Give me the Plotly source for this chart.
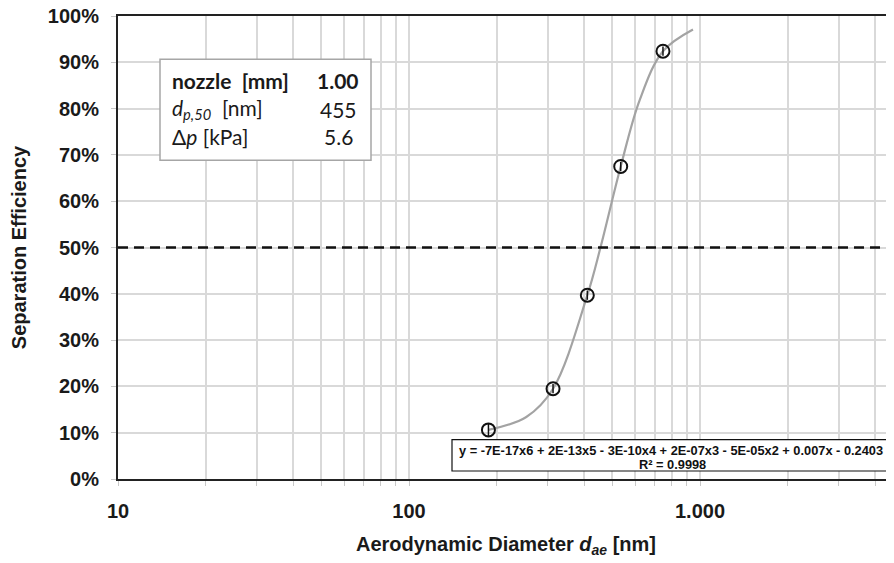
import plotly.graph_objects as go

# ---- data ----
diam_nm = [187.5, 312.6, 410, 534, 746]
efficiency = [0.106, 0.195, 0.397, 0.675, 0.924]
err = [0.015, 0.01, 0.01, 0.01, 0.01]

fit_x = [187.5, 253, 312.6, 410, 455, 534, 620, 746, 946]
fit_y = [0.106, 0.134, 0.195, 0.397, 0.50, 0.675, 0.818, 0.924, 0.971]

x_major = [10, 100, 1000]
x_major_text = ["10", "100", "1.000"]
x_minor = [20, 30, 40, 50, 60, 70, 80, 90,
           200, 300, 400, 500, 600, 700, 800, 900,
           2000, 3000, 4000]

y_ticks = [i / 10 for i in range(11)]
y_tick_text = [f"{i*10}%" for i in range(11)]

dp50_level = 0.5

# the page body has an 8px default margin: size the figure so it fills the window
OFF = 8
WIN_W, WIN_H = 894, 563
W, H = WIN_W - OFF, WIN_H - OFF
PLOT_L, PLOT_T, PLOT_B = 118, 15.7, 479   # window coordinates of the plot area
L, R, T, B = PLOT_L - OFF, 0, PLOT_T - OFF, WIN_H - PLOT_B
pw = WIN_W - PLOT_L
ph = PLOT_B - PLOT_T


def px(xp):
    return (xp - PLOT_L) / pw


def py(yp):
    return (PLOT_B - yp) / ph


fig = go.Figure()

fig.add_trace(go.Scatter(
    x=fit_x, y=fit_y, mode="lines",
    line=dict(color="#a3a3a3", width=2.2, shape="spline", smoothing=1.0),
    hoverinfo="skip", showlegend=False,
))

fig.add_trace(go.Scatter(
    x=diam_nm, y=efficiency, mode="markers",
    marker=dict(symbol="circle-open", size=13, color="#111111",
                line=dict(width=2, color="#111111")),
    error_y=dict(type="data", array=err, visible=True, color="#111111",
                 thickness=1.5, width=0),
    showlegend=False,
))

font_axis = "Liberation Sans, Arial, sans-serif"
tick_font = dict(size=20, family=font_axis, color="#1a1a1a", weight="bold")

fig.update_layout(
    width=W, height=H,
    margin=dict(l=L, r=R, t=T, b=B, pad=0),
    paper_bgcolor="white", plot_bgcolor="white",
    font=dict(family=font_axis, color="#1a1a1a"),
    xaxis=dict(
        type="log", range=[1, 1 + pw / 291],
        tickmode="array", tickvals=x_major, ticktext=x_major_text,
        tickfont=tick_font,
        showgrid=True, gridcolor="#d9d9d9", gridwidth=1.5,
        ticks="outside", ticklen=5, tickcolor="#c8c8c8", tickwidth=1,
        ticklabelstandoff=8,
        minor=dict(tickmode="array", tickvals=x_minor, showgrid=True,
                   gridcolor="#d9d9d9", gridwidth=1.5,
                   ticks="outside", ticklen=5, tickcolor="#c8c8c8"),
        showline=True, linecolor="#222222", linewidth=2, mirror=True,
        zeroline=False,
        title=dict(text="<b>Aerodynamic Diameter <i>d</i><sub><i>ae</i></sub> [nm]</b>",
                   font=dict(size=20, family=font_axis, color="#1a1a1a"),
                   standoff=16),
        automargin=False,
    ),
    yaxis=dict(
        range=[0, 1], tickmode="array", tickvals=y_ticks, ticktext=y_tick_text,
        tickfont=tick_font, ticklabeloverflow="allow",
        showgrid=True, gridcolor="#d9d9d9", gridwidth=1.5,
        ticks="outside", ticklen=5, tickcolor="#c8c8c8", tickwidth=1,
        ticklabelstandoff=8,
        showline=True, linecolor="#222222", linewidth=2, mirror=False,
        zeroline=False,
        title=dict(text="<b>Separation Efficiency</b>",
                   font=dict(size=20, family=font_axis, color="#1a1a1a"),
                   standoff=25),
        automargin=False,
    ),
)

# 50 % line
fig.add_shape(type="line", xref="paper", yref="y",
              x0=0, x1=1, y0=dp50_level, y1=dp50_level,
              line=dict(color="#111111", width=2.6, dash="10px,6px"),
              layer="above")

# info box
fig.add_shape(type="rect", xref="paper", yref="paper",
              x0=px(160), x1=px(371), y0=py(160), y1=py(59),
              fillcolor="white", line=dict(color="#a6a6a6", width=1.5),
              layer="above")

box_font = "Lato, Open Sans, sans-serif"
rows = [
    ("<b>nozzle&nbsp; [mm]</b>", "<b>1.00</b>", 80.5),
    ("<i>d</i><sub><i>p,50</i></sub>&nbsp; [nm]", "455", 109),
    ("Δ<i>p</i> [kPa]", "5.6", 136.5),
]
for left, right, yc in rows:
    fig.add_annotation(xref="paper", yref="paper", x=px(170), y=py(yc),
                       text=left, showarrow=False, xanchor="left",
                       yanchor="middle",
                       font=dict(size=21, family=box_font, color="#1a1a1a"))
    fig.add_annotation(xref="paper", yref="paper", x=px(338), y=py(yc),
                       text=right, showarrow=False, xanchor="center",
                       yanchor="middle",
                       font=dict(size=21, family=box_font, color="#1a1a1a"))

# trendline equation box
fig.add_shape(type="rect", xref="paper", yref="paper",
              x0=px(452), x1=1.02, y0=py(471), y1=py(439.5),
              fillcolor="white", line=dict(color="#111111", width=1.2),
              layer="above")
fig.add_annotation(xref="paper", yref="paper", x=px(671), y=py(450),
                   text="<b>y = -7E-17x6 + 2E-13x5 - 3E-10x4 + 2E-07x3 - 5E-05x2 + 0.007x - 0.2403</b>",
                   showarrow=False, xanchor="center", yanchor="middle",
                   font=dict(size=12.8, family=font_axis, color="#111111"))
fig.add_annotation(xref="paper", yref="paper", x=px(672), y=py(464),
                   text="<b>R² = 0.9998</b>",
                   showarrow=False, xanchor="center", yanchor="middle",
                   font=dict(size=12.8, family=font_axis, color="#111111"))

fig.write_html("out.html")
